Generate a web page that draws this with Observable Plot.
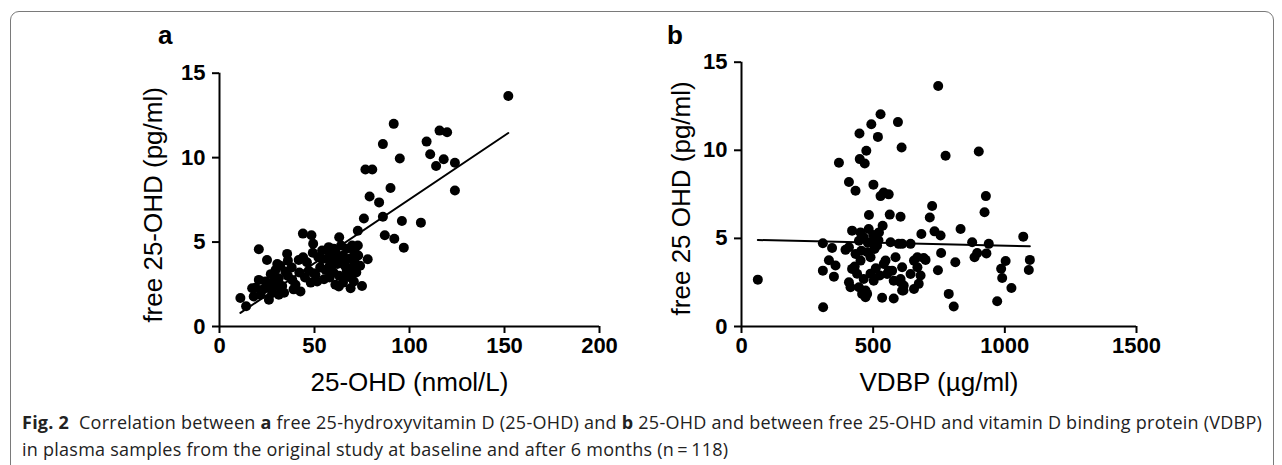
<!DOCTYPE html>
<html><head><meta charset="utf-8">
<script src="https://cdn.jsdelivr.net/npm/d3@7"></script>
<script src="https://cdn.jsdelivr.net/npm/@observablehq/plot@0.6"></script>
<style>
html,body{margin:0;padding:0;background:#fff;}
body{width:1282px;height:465px;overflow:hidden;position:relative;font-family:"Liberation Sans",Arial,sans-serif;}
#frame{position:absolute;left:10px;top:11px;width:1264px;height:480px;border:1.5px solid #7a7a7a;border-radius:9px 9px 0 0;box-sizing:border-box;}
.panel{position:absolute;top:0;}
.plab{position:absolute;top:20px;font-weight:bold;font-size:26px;color:#000;}
#caption{position:absolute;left:22px;top:409px;font-family:"Open Sans",sans-serif;font-size:18px;letter-spacing:0.25px;line-height:27px;color:#222;white-space:nowrap;}
</style></head>
<body>
<div id="frame"></div>
<div class="plab" style="left:158px">a</div>
<div class="plab" style="left:667px">b</div>
<div id="panelA" class="panel" style="left:0"></div>
<div id="panelB" class="panel" style="left:640px"></div>
<div id="caption"><b>Fig. 2</b>&nbsp; Correlation between <b>a</b> free 25-hydroxyvitamin D (25-OHD) and <b>b</b> 25-OHD and between free 25-OHD and vitamin D binding protein (VDBP)<br>in plasma samples from the original study at baseline and after 6 months (n&#8201;=&#8201;118)</div>
<script>
// ---- Panel a: free 25-OHD vs 25-OHD ----
const aX = [152,91.7,115.8,119.8,86,109,94.9,110.9,118,114,123.9,76.8,80.4,90,123.9,79,84,76,86,96,106,72.8,87,92,97,78,69.8,72.8,
11,14,17.2,18,21.6,20.7,24.2,20.7,25,26,27.7,30.4,31.2,31.2,29.5,34.7,35.6,38.3,41.7,42.6,40,43.9,48.4,49.3,49.1,50.5,51.4,49.6,55.8,54,57.5,56.7,60.2,63,61,62.8,69,70.7,62,64,66,68,65,67,63,60,58,59,70,72,71,66,69,73,74,53,46,45,38,33,36,23,28,52,47,55,61,67,64,75,44,39,32,27,19,57,68,71,26,34,48,58,65,60,62,70,54,42,36,30];
const aY = [13.65,12.0,11.6,11.5,10.8,10.95,9.95,10.2,9.9,9.5,9.7,9.3,9.3,8.2,8.05,7.7,7.35,6.4,6.5,6.25,6.15,5.67,5.4,5.2,4.67,3.98,4.8,4.8,
1.69,1.2,2.27,1.78,1.88,2.76,2.67,4.57,3.94,1.59,1.98,3.7,2.86,1.88,3.35,3.25,4.3,2.76,3.94,2.08,2.47,5.5,5.4,4.9,4.37,3.06,2.67,3.16,3.35,3.98,4.7,4.5,4.6,5.28,2.47,2.37,2.27,2.67,3.7,3.9,3.6,4.0,4.2,3.3,3.0,3.2,3.6,4.1,3.5,3.2,3.9,2.9,2.9,4.2,3.6,3.5,3.8,2.9,3.5,2.4,3.0,2.2,2.6,4.1,3.3,2.8,4.4,4.6,4.8,2.4,4.1,2.2,3.6,3.1,2.3,4.0,3.4,4.5,2.3,2.0,2.6,2.9,2.6,3.8,4.1,4.1,4.5,3.2,3.9,2.4];
const aXTicks = [0,50,100,150,200];
const yTicks = [0,5,10,15];
const aXLabel = "25-OHD (nmol/L)";
const aYLabel = "free 25-OHD (pg/ml)";

// ---- Panel b: free 25-OHD vs VDBP ----
const bX = [747,528,493,594,448,518,608,474,449,468,370,775,901,408,433,501,540,928,923,724,715,484,563,604,832,683,733,756,1070,536,522,876,939,566,610,642,758,895,885,930,812,1003,1095,1091,986,990,1025,746,699,655,668,787,806,971,534,578,615,655,673,680,668,642,604,578,572,540,553,502,477,458,62,310,309,344,332,309,351,357,395,420,452,483,446,464,496,408,433,478,490,452,420,439,464,446,471,414,408,471,547,559,585,610,604,610,597,616,692,528,559,520,505,455,430,510,525,490,500,515,480];
const bY = [13.65,12.05,11.48,11.6,10.95,10.76,10.16,9.97,9.5,9.25,9.29,9.69,9.93,8.2,7.7,8.05,7.6,7.4,6.48,6.84,6.19,6.33,6.35,6.23,5.53,5.25,5.4,5.16,5.1,5.72,5.34,4.78,4.69,4.78,4.69,4.69,4.17,4.17,3.93,4.15,3.65,3.72,3.78,3.21,3.28,2.75,2.19,3.19,3.78,3.74,3.93,1.85,1.13,1.43,1.63,1.59,2.04,2.13,2.42,2.89,3.36,2.98,2.7,2.6,3.17,3.55,2.98,2.6,1.85,1.85,2.66,1.09,4.72,4.46,3.76,3.17,2.83,3.46,4.35,5.44,5.34,5.53,4.87,5.06,4.78,4.5,4.12,4.21,3.93,3.74,3.27,2.99,2.7,2.23,2.04,2.23,2.51,1.66,3.74,3.17,3.93,3.36,2.51,2.04,4.69,2.32,3.89,7.4,7.5,4.9,4.4,4.3,3.4,3.3,2.9,3.0,5.2,4.6,4.75];
const bXTicks = [0,500,1000,1500];
const bXLabel = "VDBP (µg/ml)";
const bYLabel = "free 25 OHD (pg/ml)";

const FONT = "Liberation Sans, Arial, Helvetica, sans-serif";

function panel({xs, ys, xDomain, xTicks, xLabel, yLabel, width, mLeft, mRight, mTop, yLabDx, yLabDy}) {
  const data = xs.map((x, i) => ({x, y: ys[i]}));
  return Plot.plot({
    width, height: 400,
    marginLeft: mLeft, marginRight: mRight, marginTop: mTop, marginBottom: 74,
    style: {fontFamily: FONT, background: "transparent", color: "#000", overflow: "visible"},
    x: {domain: xDomain},
    y: {domain: [0, 15]},
    marks: [
      Plot.axisX({ticks: xTicks, tickFormat: d3.format("d"), tickSize: 7, tickPadding: 4, strokeWidth: 2, fontSize: 22, fontWeight: "bold", label: null}),
      Plot.axisY({ticks: yTicks, tickFormat: d3.format("d"), tickSize: 7, tickPadding: 7, strokeWidth: 2, fontSize: 22, fontWeight: "bold", label: null}),
      Plot.ruleY([0], {stroke: "#000", strokeWidth: 2}),
      Plot.ruleX([0], {stroke: "#000", strokeWidth: 2}),
      Plot.linearRegressionY(data, {x: "x", y: "y", ci: 0, stroke: "#000", strokeWidth: 2}),
      Plot.dot(data, {x: "x", y: "y", r: 5, fill: "#000", stroke: null}),
      Plot.text([xLabel], {frameAnchor: "bottom", dy: 64, fontSize: 26, fill: "#000"}),
      Plot.text([yLabel], {frameAnchor: "left", textAnchor: "middle", lineAnchor: "bottom", dx: yLabDx, dy: yLabDy, rotate: -90, fontSize: 26, fill: "#000"})
    ]
  });
}

document.getElementById("panelA").append(panel({
  xs: aX, ys: aY, xDomain: [0, 200], xTicks: aXTicks, xLabel: aXLabel, yLabel: aYLabel,
  width: 640, mLeft: 219, mRight: 41, mTop: 72.7, yLabDx: -58, yLabDy: 5
}));
document.getElementById("panelB").append(panel({
  xs: bX, ys: bY, xDomain: [0, 1500], xTicks: bXTicks, xLabel: bXLabel, yLabel: bYLabel,
  width: 642, mLeft: 101, mRight: 146, mTop: 61.7, yLabDx: -52, yLabDy: 4
}));
</script>
</body></html>
